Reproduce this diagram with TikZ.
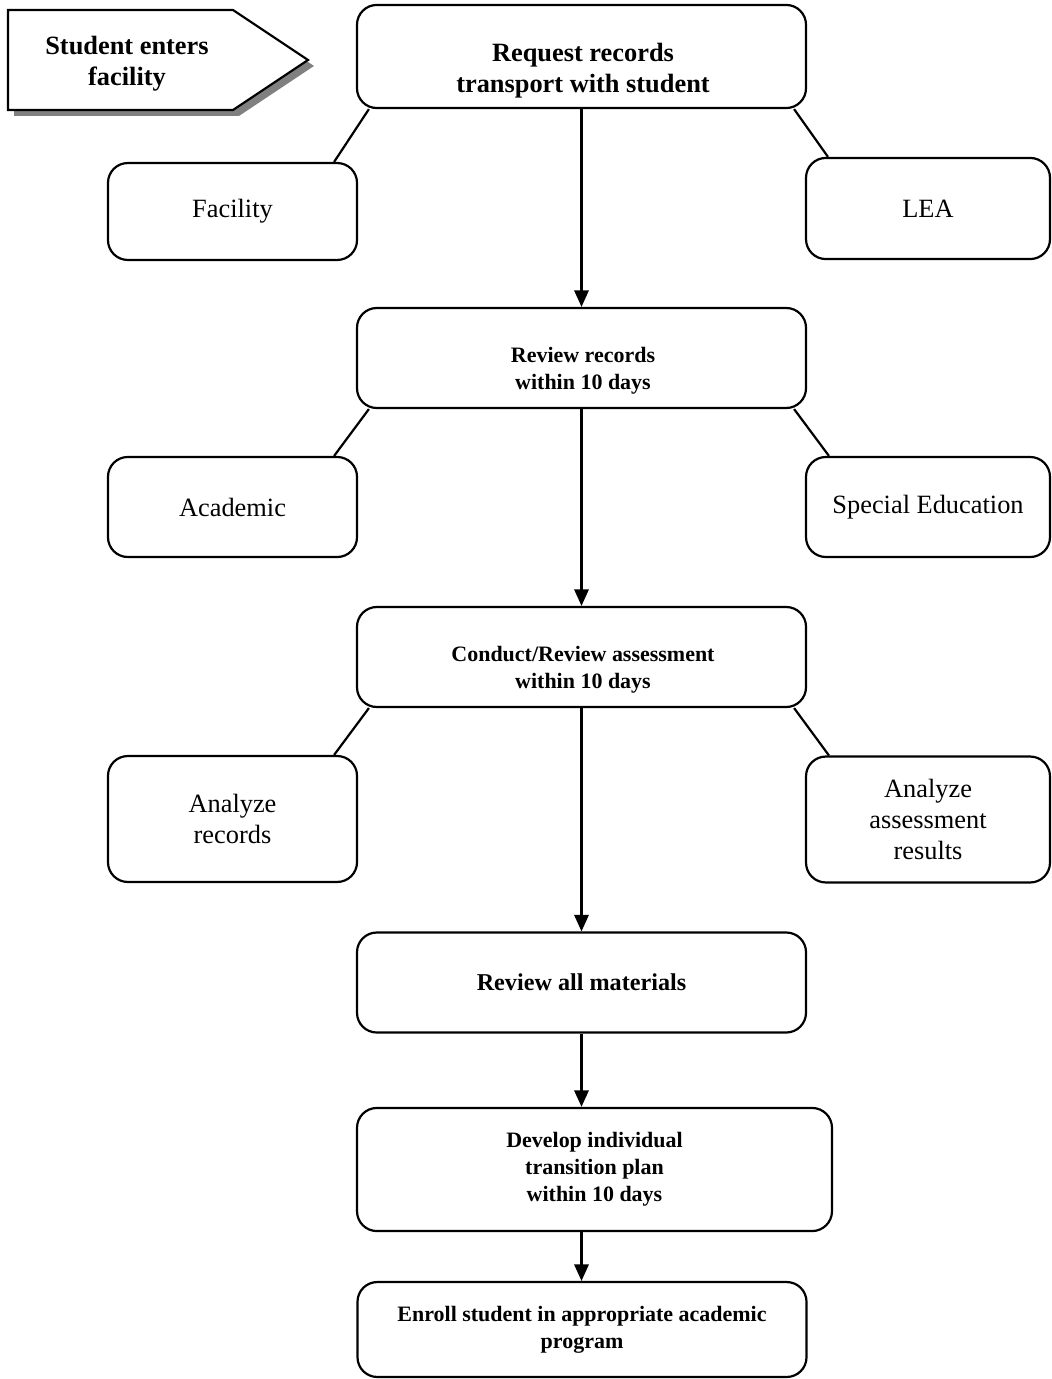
\documentclass[tikz,border=0pt]{standalone}
\usepackage{fontspec}
\setmainfont{Liberation Serif}
\usetikzlibrary{arrows.meta,calc}

\begin{document}
\begin{tikzpicture}[x=0.455pt,y=-0.455pt,line width=1pt]
\tikzstyle{every node}=[inner sep=1pt, align=center]
\tikzstyle{stepbox}=[draw, rectangle, rounded corners=9pt, minimum width=204.3pt, minimum height=45.5pt]
\tikzstyle{sidebox}=[draw, rectangle, rounded corners=9pt, minimum width=113.3pt, minimum height=45.5pt, font=\fontsize{12}{13.9}\selectfont]
\tikzstyle{bigtext}=[font=\bfseries\fontsize{12}{14.1}\selectfont]
\tikzstyle{smalltext}=[font=\bfseries\fontsize{10}{12.3}\selectfont]
\tikzstyle{flow}=[-{Triangle[length=7.5pt,width=6.5pt]}]
\useasboundingbox (0,0) rectangle (1051,1379);
% start marker
\fill[gray] (14,16) -- (239,16) -- (314,66) -- (239,116) -- (14,116) -- cycle;
\draw[fill=white] (8,10) -- (233,10) -- (308,60) -- (233,110) -- (8,110) -- cycle;
\draw (127,64) node (enter) [bigtext] {Student enters\\facility};
% main column
\draw (581.5,56.5) node (req) [stepbox, minimum height=46.9pt] {};
\draw (583,71) node (reqtxt) [bigtext] {Request records\\transport with student};
\draw (581.5,358) node (rev) [stepbox] {};
\draw (583,371) node (revtxt) [smalltext] {Review records\\within 10 days};
\draw (581.5,657) node (cond) [stepbox] {};
\draw (583,670) node (condtxt) [smalltext] {Conduct/Review assessment\\within 10 days};
\draw (581.5,982.5) node (mat) [stepbox, font=\bfseries\fontsize{11}{12.6}\selectfont] {Review all materials};
\draw (594.5,1169.5) node (dev) [stepbox, smalltext, minimum width=216.1pt, minimum height=56pt] {Develop individual\\transition plan\\within 10 days};
\draw (582,1329.5) node (enr) [stepbox, smalltext, minimum height=43.2pt] {Enroll student in appropriate academic\\program};
% side boxes
\draw (232.5,211.5) node (fac) [sidebox, minimum height=44.1pt] {Facility};
\draw (928,208.5) node (lea) [sidebox, minimum width=111pt, minimum height=46pt] {LEA};
\draw (232.5,507) node (aca) [sidebox] {Academic};
\draw (928,507) node (spe) [sidebox, minimum width=111pt] {Special Education};
\draw (232.5,819) node (anr) [sidebox, minimum height=57.3pt] {Analyze\\records};
\draw (928,819.5) node (ana) [sidebox, minimum width=111pt, minimum height=57.3pt] {Analyze\\assessment\\results};
% arrows
\draw[flow] (req) -- (rev);
\draw[flow] (rev) -- (cond);
\draw[flow] (cond) -- (mat);
\draw[flow] (mat.south) -- (mat.south |- dev.north);
\draw[flow] (mat.south |- dev.south) -- (mat.south |- enr.north);
% branches
\draw ($(req.south west)+(13,0)$) -- ($(fac.north east)+(-24,0)$);
\draw ($(req.south east)+(-13,0)$) -- ($(lea.north west)+(23,0)$);
\draw ($(rev.south west)+(13,0)$) -- ($(aca.north east)+(-24,0)$);
\draw ($(rev.south east)+(-13,0)$) -- ($(spe.north west)+(24,0)$);
\draw ($(cond.south west)+(13,0)$) -- ($(anr.north east)+(-24,0)$);
\draw ($(cond.south east)+(-13,0)$) -- ($(ana.north west)+(24,0)$);
\end{tikzpicture}
\end{document}
